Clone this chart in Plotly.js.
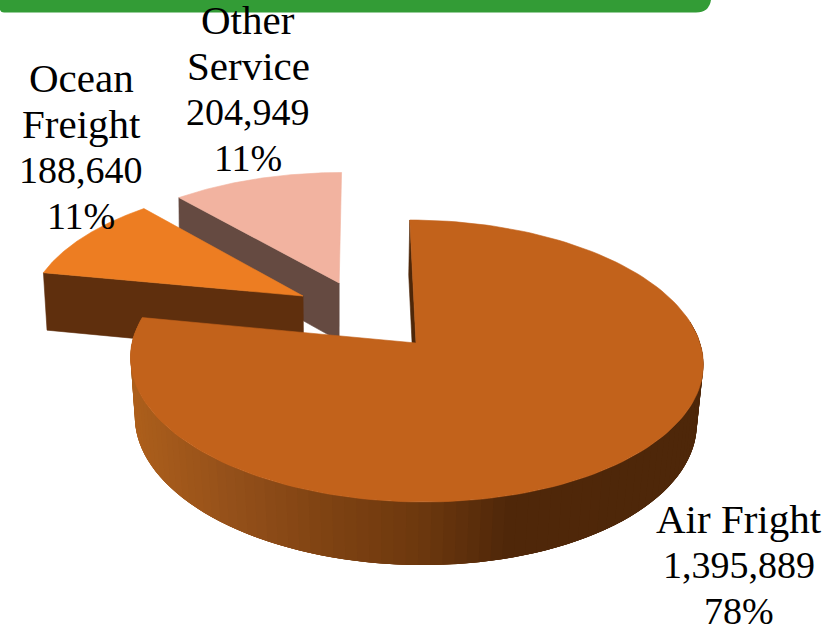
<!DOCTYPE html>
<html>
<head>
<meta charset="utf-8">
<script src="https://cdn.plot.ly/plotly-3.0.1.min.js"></script>
<style>html,body{margin:0;padding:0;background:#fff}#c{width:832px;height:634px}</style>
</head>
<body>
<div id="c"></div>
<script>
// Data
const labels = [["Air Fright"], ["Ocean", "Freight"], ["Other", "Service"]];
const values = [1395889, 188640, 204949];
const topColors = ["#c2621b", "#ed7d22", "#f2b3a0"];
const faceColors = ["#4e2709", "#5f2f0d", "#654a41"];
// Slice offset on the pie plane (explosion), in units of the radius
const explodeU = [0, -0.407, -0.275];
const explodeV = [0, 0.354, 0.458];
const labelX = [739, 81, 248];
const labelY = [519, 78, 20];
const lineGap = 46;
// Wall shading of the big slice: screen x -> colour
const shadeX = [130, 230, 330, 420, 510, 700];
const shadeC = [[173,95,27],[148,80,26],[126,66,18],[109,56,14],[79,39,9],[78,39,9]];

// Projection of the pie plane, top face and bottom face
const topP = {x0:416, y0:343, A:138.7, B:284, s:-7, k:0.1276};
const botP = {x0:415, y0:403, A:143, B:279, s:-7, k:0.1176};
const project = (P, u, v) => {
  const w = 1 + P.k * v;
  return [P.x0 + (P.B * u + P.s * v) / w, P.y0 - P.A * v / w];
};
const total = values.reduce((a, b) => a + b, 0);
const start = []; let acc = 0;
values.forEach(v => { start.push(acc); acc += v / total * 2 * Math.PI; });
start.push(2 * Math.PI);
const rim = (P, i, t) => project(P, explodeU[i] + Math.sin(t), explodeV[i] + Math.cos(t));
const apex = (P, i) => project(P, explodeU[i], explodeV[i]);
const poly = (pts, color, lw) => ({
  type: "scatter", mode: "lines", x: pts.map(p => p[0]), y: pts.map(p => p[1]),
  fill: "toself", fillcolor: color, line: {color: color, width: lw === undefined ? 0.6 : lw},
  hoverinfo: "skip", showlegend: false
});
const topFace = i => {
  const pts = [apex(topP, i)], n = 160;
  for (let j = 0; j <= n; j++) pts.push(rim(topP, i, start[i] + (start[i + 1] - start[i]) * j / n));
  pts.push(apex(topP, i));
  return poly(pts, topColors[i]);
};
const flatFace = (i, t) => poly([apex(topP, i), rim(topP, i, t), rim(botP, i, t), apex(botP, i), apex(topP, i)], faceColors[i]);
const shade = x => {
  let j = 0;
  while (j < shadeX.length - 2 && x > shadeX[j + 1]) j++;
  const f = Math.max(0, Math.min(1, (x - shadeX[j]) / (shadeX[j + 1] - shadeX[j])));
  const c = shadeC[j].map((a, m) => Math.round(a + (shadeC[j + 1][m] - a) * f));
  return `rgb(${c[0]},${c[1]},${c[2]})`;
};

const traces = [];
// Other service (furthest back)
traces.push(flatFace(2, start[2]), topFace(2));
// Ocean freight
traces.push(flatFace(1, start[1]), topFace(1));
// Air freight: thin start face, outer wall strips, top
traces.push(flatFace(0, 0));
// Strips run from the right end to the left end; each reaches under its neighbour so no seam shows
const strips = 90, t0 = Math.PI * 0.45, t1 = start[1], step = (t1 - t0) / strips;
for (let j = strips - 1; j >= 0; j--) {
  const a = t0 + step * j, b = t0 + step * (j + 1);
  const mid = rim(topP, 0, (a + b) / 2);
  const far = Math.max(t0, a - step * 3);
  const pts = [];
  const m = 6;
  for (let q = 0; q <= m; q++) pts.push(rim(topP, 0, far + (b - far) * q / m));
  for (let q = m; q >= 0; q--) pts.push(rim(botP, 0, far + (b - far) * q / m));
  pts.push(pts[0]);
  traces.push(poly(pts, shade(mid[0]), 0));
}
traces.push(topFace(0));

// Labels: one annotation per line
const annotations = [];
const nameSize = 41, numberSize = 38;
labels.forEach((name, i) => {
  const lines = name.concat([values[i].toLocaleString("en-US"), Math.round(values[i] / total * 100) + "%"]);
  lines.forEach((text, l) => annotations.push({
    x: labelX[i], y: labelY[i] + l * lineGap, xref: "x", yref: "y", text: text, showarrow: false,
    xanchor: "center", yanchor: "middle",
    font: {family: "'Liberation Serif', serif", size: l < name.length ? nameSize : numberSize, color: "#000"}
  }));
});

const layout = {
  width: 832, height: 634, margin: {l: 0, r: 0, t: 0, b: 0, pad: 0},
  paper_bgcolor: "#fff", plot_bgcolor: "#fff", showlegend: false,
  xaxis: {range: [0, 832], visible: false, fixedrange: true},
  yaxis: {range: [634, 0], visible: false, fixedrange: true},
  annotations: annotations,
  shapes: [{
    type: "path", layer: "above", xref: "x", yref: "y", fillcolor: "#339c36", line: {width: 0},
    path: "M0,0 L711,0 L711,0 Q709,12.5 696,12.5 L4,12.5 Q1,12.5 0,10 Z"
  }]
};
Plotly.newPlot("c", traces, layout, {displayModeBar: false, staticPlot: true});
</script>
</body>
</html>
